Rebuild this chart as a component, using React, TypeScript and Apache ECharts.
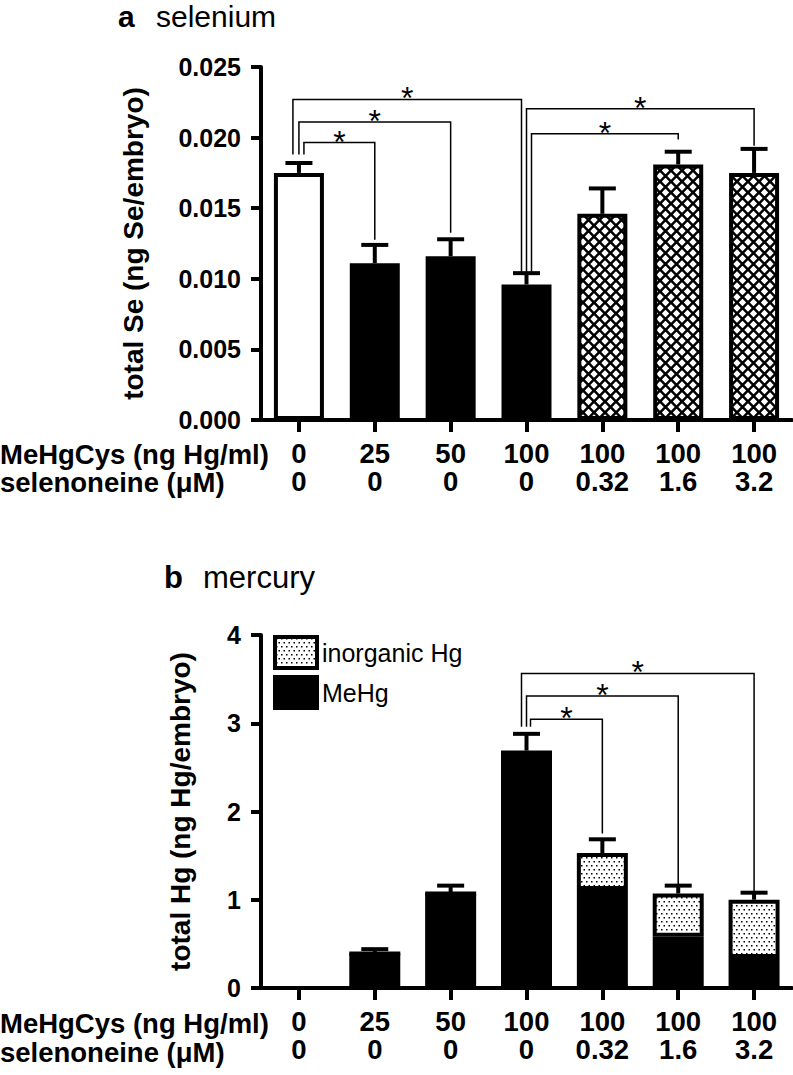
import React, { useEffect, useRef } from "react";
import * as echarts from "echarts";

// ---------- data ----------
const doseLabels = ["0", "25", "50", "100", "100", "100", "100"];
const selenoneineLabels = ["0", "0", "0", "0", "0.32", "1.6", "3.2"];

// panel a: total Se (ng Se/embryo)
const seValues = [0.0175, 0.0111, 0.0116, 0.0096, 0.0146, 0.0181, 0.0175];
const seErrors = [0.0007, 0.0013, 0.0012, 0.0008, 0.0018, 0.0009, 0.0017];
const seFillKind = ["white", "solid", "solid", "solid", "hatch", "hatch", "hatch"];
// brackets: [fromIndex, toIndex, level, leftEnd, rightEnd]
const seBrackets = [
  [0, 3, 0.0227, 0.0188, 0.0105],
  [0, 2, 0.0211, 0.0188, 0.01326],
  [0, 1, 0.01965, 0.0188, 0.01277],
  [3, 6, 0.02204, 0.0105, 0.01943],
  [3, 5, 0.02028, 0.0105, 0.01986],
];
const seBracketShift = [[-6, -5], [0, 0], [5, 0], [0, 0], [5, 0]];

// panel b: total Hg (ng Hg/embryo)
const meHgValues = [0, 0.39, 1.07, 2.63, 1.11, 0.58, 0.34];
const inorganicHgValues = [0, 0, 0, 0.06, 0.42, 0.49, 0.66];
const hgErrors = [0, 0.05, 0.09, 0.19, 0.155, 0.09, 0.08];
const hgBrackets = [
  [3, 6, 3.564, 2.959, 1.091],
  [3, 5, 3.31, 2.959, 1.166],
  [3, 4, 3.046, 2.959, 1.752],
];
const hgBracketShift = [[-5, 0], [0, 0], [4, 0]];

const FONT = '"Liberation Sans", Arial, Helvetica, sans-serif';

function makeHatch() {
  const P = 11;
  const c = document.createElement("canvas");
  c.width = P;
  c.height = P;
  const g = c.getContext("2d")!;
  g.fillStyle = "#000";
  g.fillRect(0, 0, P, P);
  g.fillStyle = "#fff";
  const a = 3.7;
  const centers = [
    [P / 2, P / 2],
    [0, 0],
    [P, 0],
    [0, P],
    [P, P],
  ];
  for (const [cx, cy] of centers) {
    g.beginPath();
    g.moveTo(cx, cy - a);
    g.lineTo(cx + a, cy);
    g.lineTo(cx, cy + a);
    g.lineTo(cx - a, cy);
    g.closePath();
    g.fill();
  }
  return { image: c, repeat: "repeat", imageWidth: P, imageHeight: P };
}

function makeDots() {
  const W = 10;
  const H = 8;
  const c = document.createElement("canvas");
  c.width = W;
  c.height = H;
  const g = c.getContext("2d")!;
  g.fillStyle = "#fff";
  g.fillRect(0, 0, W, H);
  g.fillStyle = "#000";
  const pts = [
    [1, 1],
    [6, 1],
    [3.5, 5],
    [8.5, 5],
  ];
  for (const [x, y] of pts) {
    g.fillRect(x, y, 1.5, 1.5);
  }
  return { image: c, repeat: "repeat", imageWidth: W, imageHeight: H };
}

function errorRender(params: any, api: any) {
  const i = api.value(0);
  const v = api.value(1);
  const e = api.value(2);
  if (!e) return { type: "group", children: [] };
  const base = api.coord([i, v]);
  const top = api.coord([i, v + e]);
  return {
    type: "group",
    children: [
      {
        type: "line",
        shape: { x1: base[0], y1: base[1], x2: top[0], y2: top[1] },
        style: { stroke: "#000", lineWidth: 4 },
      },
      {
        type: "line",
        shape: { x1: top[0] - 13.5, y1: top[1], x2: top[0] + 13.5, y2: top[1] },
        style: { stroke: "#000", lineWidth: 4 },
      },
    ],
  };
}

function makeBracketRender(shifts: number[][]) {
  return (params: any, api: any) => {
    const from = api.value(0);
    const to = api.value(1);
    const level = api.value(2);
    const leftEnd = api.value(3);
    const rightEnd = api.value(4);
    const s = shifts[params.dataIndex] || [0, 0];
    const pL = api.coord([from, leftEnd]);
    const pLev = api.coord([from, level]);
    const pR = api.coord([to, rightEnd]);
    const xl = pL[0] + s[0];
    const xr = pR[0] + s[1];
    const y = pLev[1];
    return {
      type: "group",
      children: [
        {
          type: "polyline",
          shape: {
            points: [
              [xl, pL[1]],
              [xl, y],
              [xr, y],
              [xr, pR[1]],
            ],
          },
          style: { stroke: "#000", lineWidth: 1.5, fill: null },
        },
        {
          type: "text",
          x: (xl + xr) / 2,
          y: y - 1,
          style: {
            text: "*",
            font: `32px ${FONT}`,
            fill: "#000",
            align: "center",
            verticalAlign: "middle",
          },
        },
      ],
    };
  };
}

export default function App() {
  const ref = useRef<HTMLDivElement>(null);

  useEffect(() => {
    document.body.style.margin = "0";
    if (!ref.current) return;
    const chart = echarts.init(ref.current, undefined, { renderer: "svg" });

    const hatch = makeHatch();
    const dots = makeDots();
    const categories = doseLabels.map((d, i) => `${d}|${selenoneineLabels[i]}`);

    const fillFor = (k: string) => (k === "white" ? "#fff" : k === "hatch" ? hatch : "#000");

    const xAxisBase = (gridIndex: number) => ({
      type: "category",
      gridIndex,
      data: categories,
      boundaryGap: true,
      axisLine: { show: true, lineStyle: { color: "#000", width: 4 } },
      axisTick: { show: true, alignWithLabel: true, length: 12, lineStyle: { color: "#000", width: 4 } },
      splitLine: { show: false },
      axisLabel: {
        interval: 0,
        margin: 19,
        formatter: (_v: string, i: number) => `{a|${doseLabels[i]}}\n{b|${selenoneineLabels[i]}}`,
        rich: {
          a: { fontSize: 27.5, fontWeight: "bold", fontFamily: FONT, color: "#000", lineHeight: 28 },
          b: { fontSize: 27.5, fontWeight: "bold", fontFamily: FONT, color: "#000", lineHeight: 29 },
        },
      },
    });

    const yAxisBase = (
      gridIndex: number,
      max: number,
      interval: number,
      name: string,
      digits: number,
      nameGap: number
    ) => ({
      type: "value",
      gridIndex,
      min: 0,
      max,
      interval,
      name,
      nameLocation: "middle",
      nameGap,
      nameRotate: 90,
      nameTextStyle: { fontSize: 28, fontWeight: "bold", fontFamily: FONT, color: "#000" },
      axisLine: { show: true, lineStyle: { color: "#000", width: 4 } },
      axisTick: { show: true, length: 10, lineStyle: { color: "#000", width: 4 } },
      splitLine: { show: false },
      axisLabel: {
        margin: 20,
        fontSize: 25,
        fontWeight: "bold",
        fontFamily: FONT,
        color: "#000",
        formatter: (v: number) => v.toFixed(digits),
      },
    });

    const hgTotals = meHgValues.map((v, i) => v + inorganicHgValues[i]);

    const textEl = (text: string, x: number, baseline: number, size: number, bold: boolean) => ({
      type: "text",
      x,
      y: baseline - size * 0.3465,
      style: {
        text,
        font: `${bold ? "bold " : ""}${size}px ${FONT}`,
        fill: "#000",
        align: "left",
        verticalAlign: "middle",
      },
    });

    chart.setOption({
      animation: false,
      backgroundColor: "#fff",
      textStyle: { fontFamily: FONT },
      grid: [
        { left: 261, right: 1, top: 67, bottom: 655 },
        { left: 261, right: 1, top: 635, bottom: 87 },
      ],
      xAxis: [xAxisBase(0), xAxisBase(1)],
      yAxis: [
        yAxisBase(0, 0.025, 0.005, "total Se (ng Se/embryo)", 3, 114),
        yAxisBase(1, 4, 1, "total Hg (ng Hg/embryo)", 0, 67),
      ],
      legend: {
        data: ["inorganic Hg", "MeHg"],
        orient: "vertical",
        left: 273,
        top: 635,
        padding: 0,
        itemWidth: 42,
        itemHeight: 31,
        itemGap: 5,
        icon: "rect",
        selectedMode: false,
        itemStyle: { borderColor: "#000", borderWidth: 4 },
        textStyle: { fontSize: 25, fontFamily: FONT, color: "#000" },
      },
      graphic: [
        textEl("a", 118, 26.5, 30, true),
        textEl("selenium", 156, 26.5, 30, false),
        textEl("b", 164, 588, 31, true),
        textEl("mercury", 203, 588, 31, false),
        textEl("MeHgCys (ng Hg/ml)", 0, 464, 27.5, true),
        textEl("selenoneine (μM)", 0, 492, 27.5, true),
        textEl("MeHgCys (ng Hg/ml)", 0, 1033, 27.5, true),
        textEl("selenoneine (μM)", 0, 1062, 27.5, true),
      ],
      series: [
        {
          type: "bar",
          name: "total Se",
          xAxisIndex: 0,
          yAxisIndex: 0,
          barWidth: 50,
          itemStyle: { borderColor: "#000", borderWidth: 4 },
          data: seValues.map((v, i) => ({ value: v, itemStyle: { color: fillFor(seFillKind[i]) } })),
          z: 2,
        },
        {
          type: "custom",
          name: "Se error",
          xAxisIndex: 0,
          yAxisIndex: 0,
          renderItem: errorRender,
          encode: { x: 0, y: 1 },
          data: seValues.map((v, i) => [i, v, seErrors[i]]),
          silent: true,
          z: 3,
        },
        {
          type: "custom",
          name: "Se brackets",
          xAxisIndex: 0,
          yAxisIndex: 0,
          renderItem: makeBracketRender(seBracketShift),
          encode: { x: 0, y: 2 },
          data: seBrackets,
          silent: true,
          z: 4,
        },
        {
          type: "bar",
          name: "MeHg",
          xAxisIndex: 1,
          yAxisIndex: 1,
          stack: "hg",
          barWidth: 51,
          itemStyle: { color: "#000", borderColor: "#000", borderWidth: 4 },
          data: meHgValues,
          z: 2,
        },
        {
          type: "bar",
          name: "inorganic Hg",
          xAxisIndex: 1,
          yAxisIndex: 1,
          stack: "hg",
          barWidth: 51,
          itemStyle: { color: dots, borderColor: "#000", borderWidth: 4 },
          data: inorganicHgValues,
          z: 2,
        },
        {
          type: "custom",
          name: "Hg error",
          xAxisIndex: 1,
          yAxisIndex: 1,
          renderItem: errorRender,
          encode: { x: 0, y: 1 },
          data: hgTotals.map((v, i) => [i, v, hgErrors[i]]),
          silent: true,
          z: 3,
        },
        {
          type: "custom",
          name: "Hg brackets",
          xAxisIndex: 1,
          yAxisIndex: 1,
          renderItem: makeBracketRender(hgBracketShift),
          encode: { x: 0, y: 2 },
          data: hgBrackets,
          silent: true,
          z: 4,
        },
      ],
    } as any);

    return () => {
      chart.dispose();
    };
  }, []);

  return <div ref={ref} style={{ width: 793, height: 1075 }} />;
}
